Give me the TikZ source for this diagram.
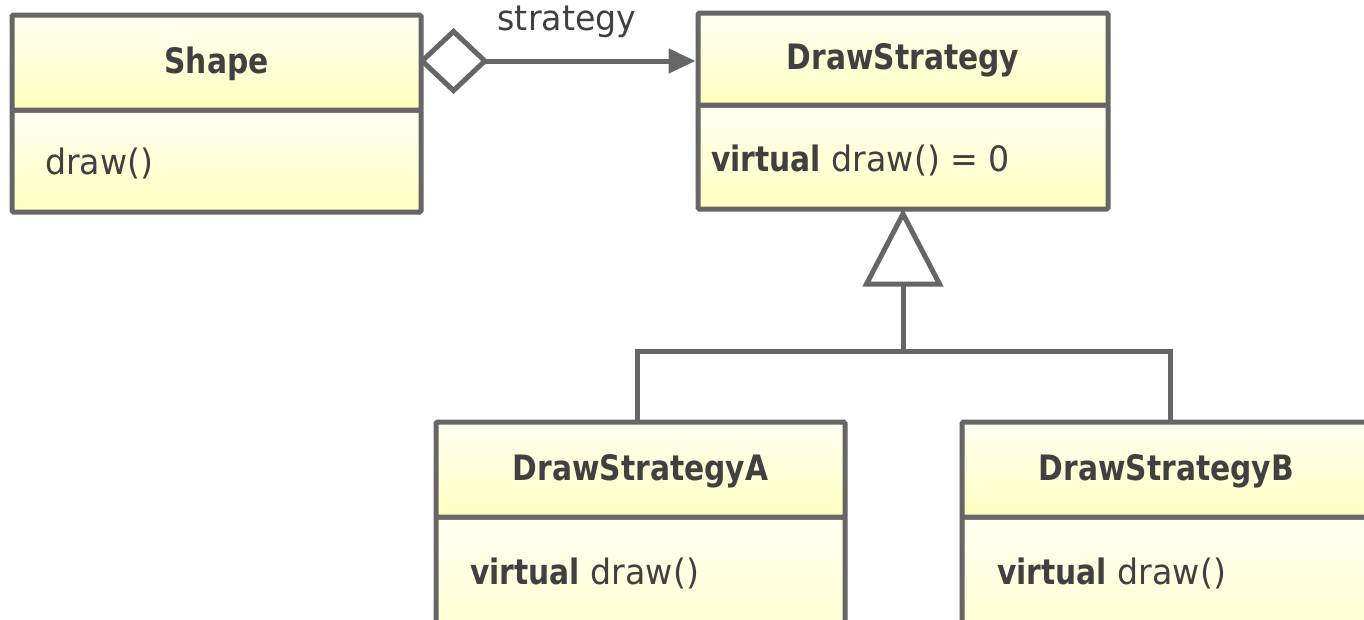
\documentclass[tikz,border=0pt]{standalone}
\usepackage{fontspec}
\setmainfont{DejaVu Sans}[FakeStretch=0.95, BoldFeatures={FakeStretch=0.85}]
\usetikzlibrary{arrows.meta,shadows}
\definecolor{linec}{HTML}{666666}
\definecolor{textc}{HTML}{404040}
\definecolor{filltop}{HTML}{FFFFF2}
\definecolor{fillbot}{HTML}{FFFFC0}
\tikzset{
  comp/.style={draw=linec, line width=5pt, top color=filltop, bottom color=fillbot,
    inner sep=0pt, minimum width=409pt, rounded corners=1.5pt,
    drop shadow={opacity=0.18, shadow xshift=2pt, shadow yshift=-2pt}},
  ttl/.style={font=\fontsize{35}{40}\selectfont\bfseries, text=textc},
  member/.style={font=\fontsize{35}{40}\selectfont, text=textc, anchor=west, inner sep=0pt},
  conn/.style={draw=linec, line width=5pt},
}
\begin{document}
\begin{tikzpicture}[x=1pt,y=-1pt]
\useasboundingbox (0,0) rectangle (1364,619);
\clip (0,0) rectangle (1364,619);

% Shape
\node[comp, minimum height=102pt] (shapeB) at (216.5,161) {};
\node[comp, minimum height=95pt] (shapeT) at (216.5,62.5) {};
\node[ttl] at ([yshift=-1.5pt]shapeT.center) {Shape};
\node[member] (shapeM) at (45,164) {draw()};

% DrawStrategy
\node[comp, minimum width=410pt, minimum height=104pt] (dsB) at (903,157) {};
\node[comp, minimum width=410pt, minimum height=92pt] (dsT) at (903,59) {};
\node[ttl] at ([yshift=-1.5pt]dsT.center) {DrawStrategy};
\node[member] (dsM) at (711,161) {\textbf{virtual} draw() = 0};

% DrawStrategyA
\node[comp, minimum height=170pt] (aB) at (640.5,602) {};
\node[comp, minimum height=95pt] (aT) at (640.5,469.5) {};
\node[ttl] at ([yshift=-1.5pt]aT.center) {DrawStrategyA};
\node[member] (aM) at (470,573) {\textbf{virtual} draw()};

% DrawStrategyB
\node[comp, minimum height=170pt] (bB) at (1166.5,602) {};
\node[comp, minimum height=95pt] (bT) at (1166.5,469.5) {};
\node[ttl] at ([yshift=-1.5pt]bT.center) {DrawStrategyB};
\node[member] (bM) at (997,573) {\textbf{virtual} draw()};

% aggregation Shape -> DrawStrategy
\coordinate (aggEnd) at (shapeT.east -| dsT.west);
\draw[conn, {Diamond[open,fill=white,length=70pt,width=66pt]}-{Triangle[length=27pt,width=24pt]}]
  ([xshift=-5pt,yshift=1.5pt]shapeT.east) -- ([yshift=1.5pt]aggEnd);
\node[font=\fontsize{35}{40}\selectfont, text=textc] (lbl) at (567,22) {strategy};

% inheritance
\coordinate (j) at (903,351);
\draw[conn, line join=miter] ([xshift=-3.5pt]aT.north) |- (j) -| ([xshift=3.5pt]bT.north);
\draw[conn, -{Triangle[open,fill=white,length=78pt,width=80pt]}] (j) -- ([yshift=3pt]dsB.south);
\end{tikzpicture}
\end{document}
